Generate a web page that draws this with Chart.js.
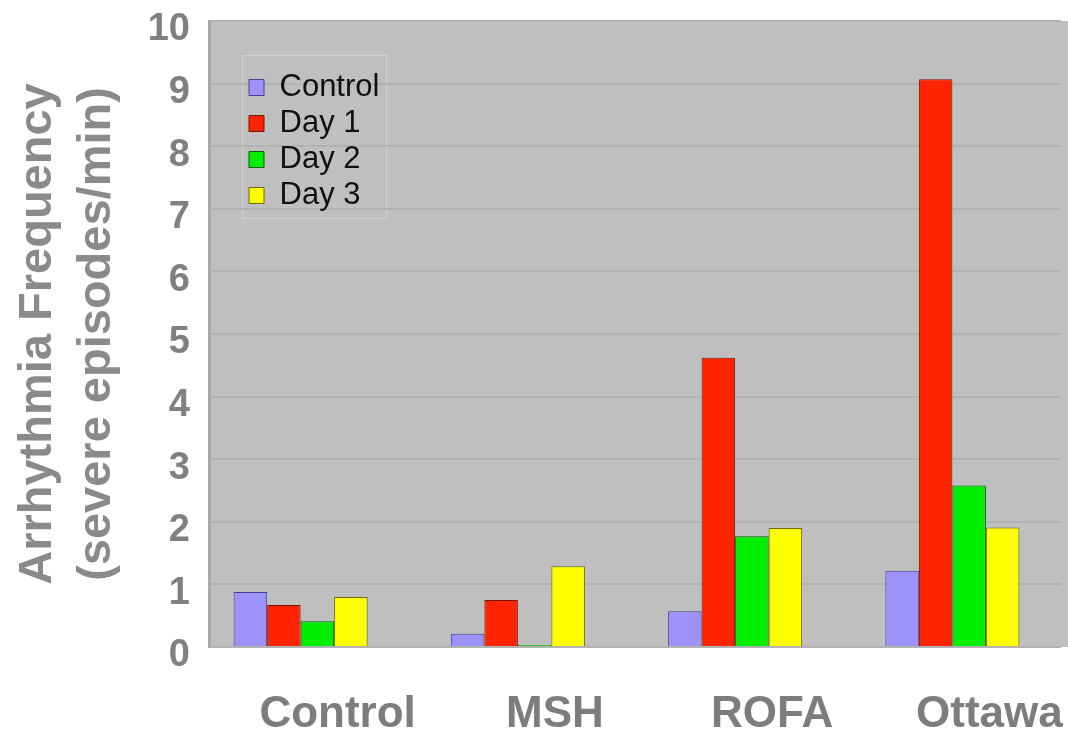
<!DOCTYPE html>
<html>
<head>
<meta charset="utf-8">
<script src="https://cdn.jsdelivr.net/npm/chart.js@4"></script>
<style>
  body { margin: 0; background: #fff; }
  canvas { display: block; }
</style>
</head>
<body>
<canvas id="arrChart" width="1068" height="730"></canvas>
<script>
// data
let groups = ["Control", "MSH", "ROFA", "Ottawa"];
let seriesNames = ["Control", "Day 1", "Day 2", "Day 3"];
let controlVals = [0.88, 0.21, 0.57, 1.22];
let day1Vals = [0.67, 0.75, 4.62, 9.07];
let day2Vals = [0.41, 0.03, 1.77, 2.58];
let day3Vals = [0.80, 1.29, 1.90, 1.91];
let yTicks = [0, 1, 2, 3, 4, 5, 6, 7, 8, 9, 10];

let colors = ["#9d92f7", "#ff2400", "#00ee00", "#ffff00"];
let edges = ["#4b3f8f", "#7a1200", "#0b5a0b", "#6b6b00"];

let font = "'Liberation Sans', Arial, sans-serif";

// gray plot background + move legend into place
let plotBg = {
    id: "plotBg",
    afterLayout(chart) {
        let lg = chart.legend;
        lg.left += 52; lg.right += 52;
        lg.top += 67; lg.bottom += 67;
    },
    beforeDraw(chart) {
        let a = chart.chartArea;
        let c = chart.ctx;
        let x0 = a.left + 16;
        c.save();
        c.fillStyle = "#bfbfbf";
        c.fillRect(x0, a.top, chart.width - x0, a.bottom - a.top);
        // faint legend frame
        let lg = chart.legend;
        c.strokeStyle = "rgba(255,255,255,0.3)";
        c.lineWidth = 1;
        c.strokeRect(lg.left - 1.5, lg.top - 11.5, 144, 163);
        c.restore();
    },
    beforeDatasetsDraw(chart) {
        let a = chart.chartArea;
        let c = chart.ctx;
        c.save();
        c.fillStyle = "#ffffff";
        c.fillRect(a.left, a.top - 3, 16, a.bottom - a.top + 6);
        c.fillStyle = "#a8a8a8";
        c.fillRect(a.left + 16, a.top, 3, a.bottom - a.top);
        c.restore();
    }
};

let allVals = [controlVals, day1Vals, day2Vals, day3Vals];
let datasets = seriesNames.map((name, i) => ({
    label: name,
    data: allVals[i],
    backgroundColor: colors[i],
    borderColor: edges[i],
    borderWidth: 1,
    categoryPercentage: 0.617,
    barPercentage: 1.0
}));

let ctx = document.getElementById("arrChart").getContext("2d");

let chart = new Chart(ctx, {
    type: "bar",
    data: { labels: groups, datasets: datasets },
    plugins: [plotBg],
    options: {
        responsive: false,
        animation: false,
        devicePixelRatio: 1,
        layout: { padding: { top: 20, right: 7, left: 0, bottom: 0 } },
        plugins: {
            tooltip: { enabled: false },
            legend: {
                position: "chartArea",
                align: "start",
                labels: {
                    boxWidth: 15,
                    boxHeight: 16,
                    padding: 5,
                    color: "#111111",
                    font: { family: font, size: 31 }
                }
            }
        },
        scales: {
            x: {
                grid: { display: false },
                border: { display: false },
                ticks: {
                    color: "#7d7d7d",
                    padding: 33,
                    labelOffset: 37,
                    maxRotation: 0,
                    font: { family: font, size: 44, weight: "bold" }
                },
                afterFit(scale) { scale.height = 83; }
            },
            y: {
                min: 0,
                max: 10,
                afterBuildTicks(scale) {
                    scale.ticks = yTicks.map(v => ({ value: v }));
                },
                grid: { color: "#b2b2b2", lineWidth: 2, drawTicks: false },
                border: { display: false },
                ticks: {
                    color: "#808080",
                    padding: 2,
                    labelOffset: 9,
                    font: { family: font, size: 38, weight: "bold", lineHeight: 1 }
                },
                title: {
                    display: true,
                    text: ["Arrhythmia Frequency", "(severe episodes/min)"],
                    color: "#8a8a8a",
                    padding: { top: 9, bottom: 0 },
                    font: { family: font, size: 47, weight: "bold", lineHeight: 1.25 }
                },
                afterFit(scale) { scale.width = 192; }
            }
        }
    }
});
</script>
</body>
</html>
